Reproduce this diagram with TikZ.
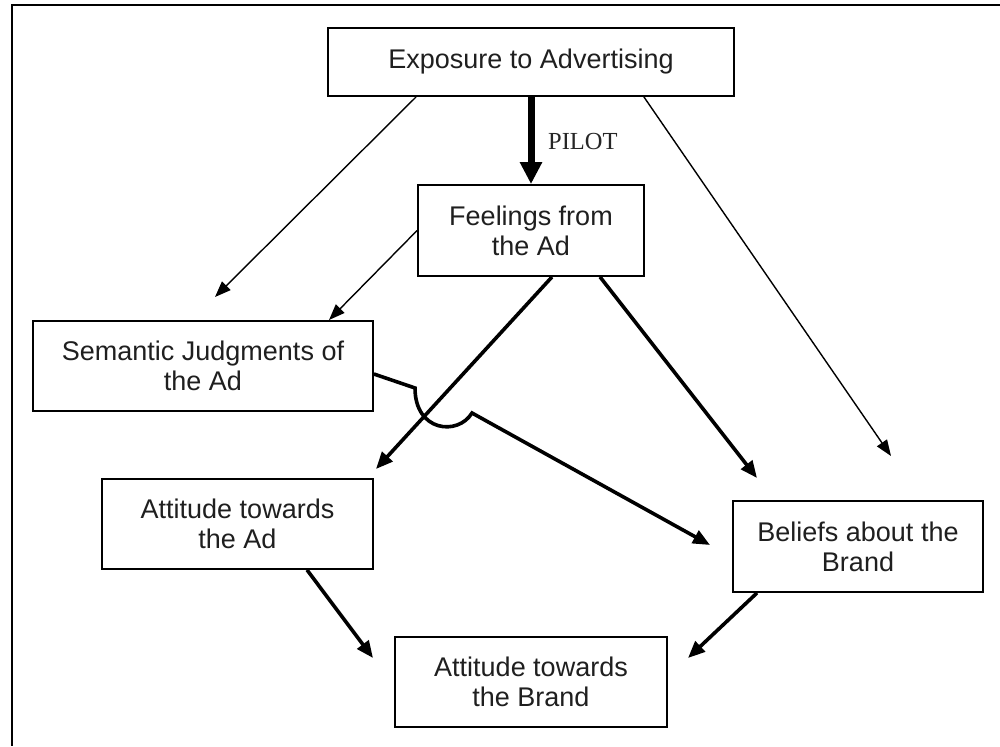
\documentclass[tikz,border=0pt]{standalone}
\usepackage{fontspec}
\setmainfont{Liberation Sans}
\newfontfamily\pilotfont{Liberation Serif}
\usetikzlibrary{arrows.meta}

\begin{document}
\begin{tikzpicture}[x=1pt,y=-1pt,
  box/.style={draw, line width=1.8pt, inner sep=0pt, align=center,
    text=black!88, font=\fontsize{27}{30}\selectfont},
  thin arrow/.style={line width=1.4pt, -{Triangle[length=16pt,width=12pt]}},
  thick arrow/.style={line width=3.6pt, -{Triangle[length=17pt,width=14pt]}},
  pilot arrow/.style={line width=7pt, -{Triangle[length=22pt,width=21pt]}},
]
\useasboundingbox (0,0) rectangle (1000,746);
\fill[white] (0,0) rectangle (1000,746);

% outer frame, open at the right and bottom
\draw[line width=2pt] (1000,5) -- (11.5,5) -- (11.5,746);

% boxes
\node[box, minimum width=406pt, minimum height=68pt] (exp) at (531,62) {Exposure to Advertising};
\node[box, minimum width=226pt, minimum height=91pt] (feel) at (531,230.5) {Feelings from\\the Ad};
\node[box, minimum width=340pt, minimum height=90pt] (sem) at (203,366) {Semantic Judgments of\\the Ad};
\node[box, minimum width=271pt, minimum height=90pt] (attad) at (237.5,524) {Attitude towards\\the Ad};
\node[box, minimum width=250pt, minimum height=91pt] (bel) at (858,546.5) {Beliefs about the\\Brand};
\node[box, minimum width=272pt, minimum height=90pt] (attbr) at (531,682) {Attitude towards\\the Brand};

% label of the main path
\node[anchor=base west, inner sep=0pt, text=black!85, font=\pilotfont\fontsize{24.5}{26}\selectfont] (pilot) at (548,150) {PILOT};

% free arrow ends
\coordinate (tExpL) at (215,297);
\coordinate (tExpR) at (891,456);
\coordinate (tSem) at (329,320);
\coordinate (tAttAd) at (376,469);
\coordinate (tBelF) at (757,478);
\coordinate (tBelS) at (710,545);
\coordinate (tBrL) at (373,658);
\coordinate (tBrR) at (688,658);
\coordinate (jumpA) at (415,388);
\coordinate (jumpB) at (472,413);

% connectors
\draw[pilot arrow] (exp.south) -- (feel.north);
\draw[thin arrow] ([xshift=89pt]exp.south west) -- (tExpL);
\draw[thin arrow] ([xshift=-91pt]exp.south east) -- (tExpR);
\draw[thin arrow] (feel.west) -- (tSem);
\draw[thick arrow] ([xshift=21pt]feel.south) -- (tAttAd);
\draw[thick arrow] ([xshift=69pt]feel.south) -- (tBelF);
\draw[thick arrow, line join=miter] ([yshift=-8pt]sem.east) -- (jumpA)
  .. controls (415,432) and (458,436) .. (jumpB) -- (tBelS);
\draw[thick arrow] ([xshift=69.5pt]attad.south) -- (tBrL);
\draw[thick arrow] ([xshift=-101pt]bel.south) -- (tBrR);
\end{tikzpicture}
\end{document}
